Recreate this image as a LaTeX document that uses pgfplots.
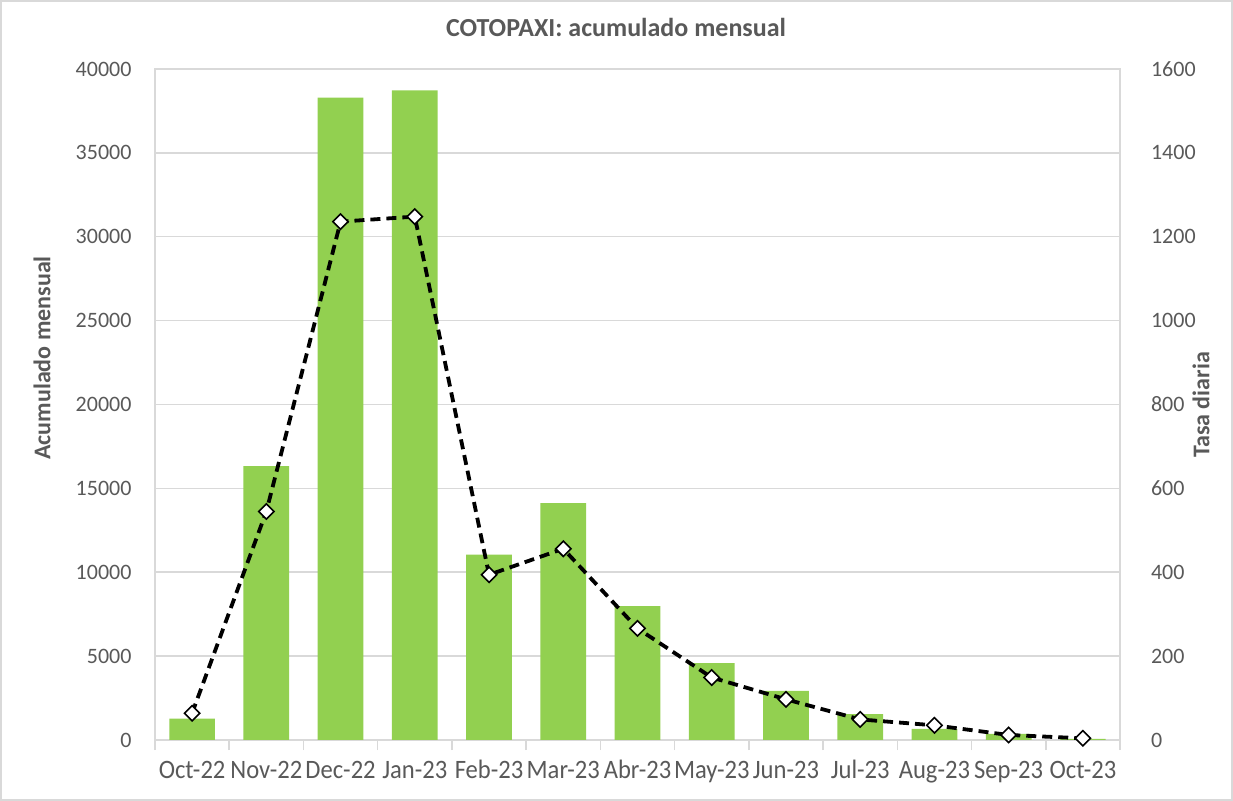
\documentclass[border=0pt]{standalone}
\usepackage{fontspec}
\setmainfont{Carlito}
\usepackage{pgfplots}
\pgfplotsset{compat=1.18}
\definecolor{barg}{HTML}{92D050}
\definecolor{gridc}{HTML}{D9D9D9}
\definecolor{txt}{HTML}{595959}
\begin{document}
\begin{tikzpicture}
\useasboundingbox (-77.5bp,-30.5bp) rectangle (539bp,370bp);
\draw[gridc, line width=0.75bp] (-77bp,-30bp) rectangle (538.5bp,369.5bp);
\begin{axis}[
  at={(0,0)}, anchor=south west, scale only axis,
  width=482.5bp, height=335.5bp,
  xmin=-0.5, xmax=12.5, ymin=0, ymax=40000,
  xtick={0,...,12},
  xticklabels={Oct-22,Nov-22,Dec-22,Jan-23,Feb-23,Mar-23,Abr-23,May-23,Jun-23,Jul-23,Aug-23,Sep-23,Oct-23},
  minor xtick={-0.5,0.5,...,12.5},
  major x tick style={draw=none},
  minor x tick style={gridc, line width=0.75bp},
  minor tick length=5bp,
  tick align=outside,
  xtick pos=bottom,
  ytick={0,5000,...,40000},
  ytick style={draw=none},
  ymajorgrids, grid style={gridc, line width=0.75bp},
  axis line style={gridc, line width=0.75bp},
  scaled ticks=false,
  /pgf/number format/1000 sep={},
  /pgf/number format/assume math mode=true,
  tick label style={font=\fontsize{11bp}{13bp}\selectfont, text=txt},
  yticklabel style={xshift=-4bp},
  xticklabel style={font=\fontsize{12.3bp}{14bp}\selectfont, yscale=1.08,
     text height=8.8bp, text depth=2.6bp, yshift=-1.5bp},
  ybar, bar width=22.85bp, bar shift=0pt,
]
\addplot[fill=barg, draw=none] coordinates {
 (0,1280) (1,16330) (2,38290) (3,38720) (4,11050) (5,14120) (6,7980)
 (7,4580) (8,2930) (9,1540) (10,670) (11,370) (12,60)};
\end{axis}
\begin{axis}[
  at={(0,0)}, anchor=south west, scale only axis,
  width=482.5bp, height=335.5bp,
  xmin=-0.5, xmax=12.5, ymin=0, ymax=1600,
  hide x axis,
  axis y line*=right,
  ytick={0,200,...,1600},
  ytick style={draw=none},
  axis line style={gridc, line width=0.75bp},
  /pgf/number format/1000 sep={},
  /pgf/number format/assume math mode=true,
  tick label style={font=\fontsize{11bp}{13bp}\selectfont, text=txt},
  yticklabel style={xshift=12bp},
]
\addplot[black, line width=1.9bp, dash pattern=on 5bp off 3bp,
  mark=square*, mark size=2.7bp,
  mark options={solid, rotate=45, fill=white, draw=black, line width=0.8bp}] coordinates {
 (0,64) (1,545) (2,1236) (3,1248) (4,394) (5,456) (6,266)
 (7,149) (8,97) (9,49) (10,35) (11,12) (12,4)};
\end{axis}
\node[font=\bfseries\fontsize{13bp}{15bp}\selectfont, text=txt] at (230.5bp,356.5bp) {COTOPAXI: acumulado mensual};
\node[font=\bfseries\fontsize{12bp}{14bp}\selectfont, text=txt, rotate=90] at (-56.5bp,191bp) {Acumulado mensual};
\node[font=\bfseries\fontsize{12bp}{14bp}\selectfont, text=txt, rotate=90] at (523bp,167.5bp) {Tasa diaria};
\end{tikzpicture}
\end{document}
